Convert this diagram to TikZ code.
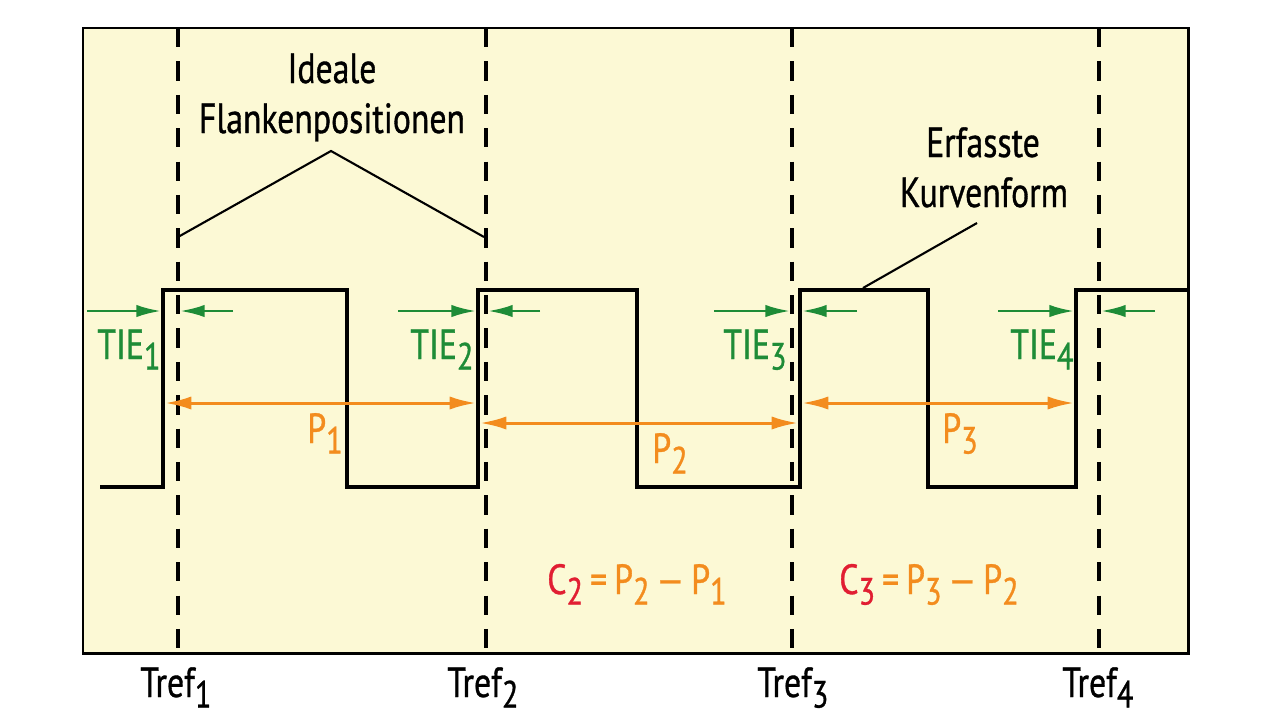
\documentclass[tikz,border=0pt]{standalone}
\usepackage{fontspec}
\setmainfont{PT Sans}[FakeStretch=0.8,FakeBold=0.8]
\usepackage{graphicx}
\usetikzlibrary{arrows.meta,positioning}

\definecolor{bgyellow}{RGB}{252,249,213}
\definecolor{tiegreen}{RGB}{30,140,55}
\definecolor{perorange}{RGB}{243,140,30}
\definecolor{cred}{RGB}{225,30,50}

\newcommand{\idx}[1]{\raisebox{-0.5ex}{\scalebox{0.9}{#1}}}

\begin{document}
\begin{tikzpicture}[x=0.02cm,y=-0.02cm]
\tikzset{every node/.style={font=\fontsize{24}{28}\selectfont, inner sep=0pt}}
\tikzset{trefline/.style={line width=2.1pt, dash pattern=on 11pt off 8pt}}
\tikzset{wave/.style={line width=2.8pt, line join=miter}}
\tikzset{tiearrow/.style={tiegreen, line width=1.5pt, -{Latex[length=14pt,width=7pt]}}}
\tikzset{perarrow/.style={perorange, line width=1.7pt, {Latex[length=15pt,width=7.5pt]}-{Latex[length=15pt,width=7.5pt]}}}
\tikzset{callout/.style={line width=1.2pt}}

\useasboundingbox (0,0) rectangle (1280,720);
\fill[white] (0,0) rectangle (1280,720);
\draw[fill=bgyellow, line width=1.7pt] (83,28) rectangle (1188,653);

% ideale Flanken
\foreach \i/\x/\l in {1/178/140,2/486/447,3/792/757,4/1099/1062}{
  \coordinate (top\i) at (\x,28);
  \coordinate (bot\i) at (\x,653);
  \draw[trefline] (top\i) -- (bot\i);
  \node[anchor=base west] (tref\i) at (\l,697) {Tref\idx{\i}};
}

% Kurvenform
\coordinate (start) at (100,487);
\coordinate (r1) at (163,290); \coordinate (f1) at (347,487);
\coordinate (r2) at (478,290); \coordinate (f2) at (637,487);
\coordinate (r3) at (800,290); \coordinate (f3) at (928,487);
\coordinate (r4) at (1076,290); \coordinate (stop) at (1188,290);
\draw[wave] (start) -| (r1) -| (f1) -| (r2) -| (f2) -| (r3) -| (f3) -| (r4) -- (stop);

% TIE
\foreach \i/\a/\b/\c/\d/\t in {1/87/161/233/180/97,2/398/476/540/488/410,3/714/790/857/802/723,4/998/1074/1155/1101/1010}{
  \coordinate (tieA\i) at (\a,311); \coordinate (tieB\i) at (\b,311);
  \coordinate (tieC\i) at (\c,311); \coordinate (tieD\i) at (\d,311);
  \draw[tiearrow] (tieA\i) -- (tieB\i);
  \draw[tiearrow] (tieC\i) -- (tieD\i);
  \node[anchor=base west, tiegreen] (tie\i) at (\t,359) {TIE\idx{\i}};
}

% Perioden
\coordinate (p1a) at (165,403); \coordinate (p1b) at (476,403);
\coordinate (p2a) at (480,423); \coordinate (p2b) at (798,423);
\coordinate (p3a) at (802,403); \coordinate (p3b) at (1074,403);
\draw[perarrow] (p1a) -- (p1b);
\draw[perarrow] (p2a) -- (p2b);
\draw[perarrow] (p3a) -- (p3b);
\node[anchor=base west, perorange] (per1) at (307,443) {P\idx{1}};
\node[anchor=base west, perorange] (per2) at (652,463) {P\idx{2}};
\node[anchor=base west, perorange] (per3) at (942,443) {P\idx{3}};

% Beschriftung
\node[anchor=base] (ideale) at (332,83) {Ideale};
\node[anchor=base] (flanken) at (332,133) {Flankenpositionen};
\coordinate (apex) at (331,151);
\coordinate (flL) at (178,237); \coordinate (flR) at (484,237);
\draw[callout] (flL) -- (apex) -- (flR);

\node[anchor=base] (erfasst) at (983,157) {Erfasste};
\node[anchor=base] (kurve) at (984,207) {Kurvenform};
\coordinate (kurveA) at (977,223); \coordinate (kurveB) at (863,288);
\draw[callout] (kurveA) -- (kurveB);

\node[anchor=base] (c2) at (637,594) {\textcolor{cred}{C\idx{2}}\textcolor{perorange}{\,=\,P\idx{2}\,—\,P\idx{1}}};
\node[anchor=base] (c3) at (929,594) {\textcolor{cred}{C\idx{3}}\textcolor{perorange}{\,=\,P\idx{3}\,—\,P\idx{2}}};
\end{tikzpicture}
\end{document}
